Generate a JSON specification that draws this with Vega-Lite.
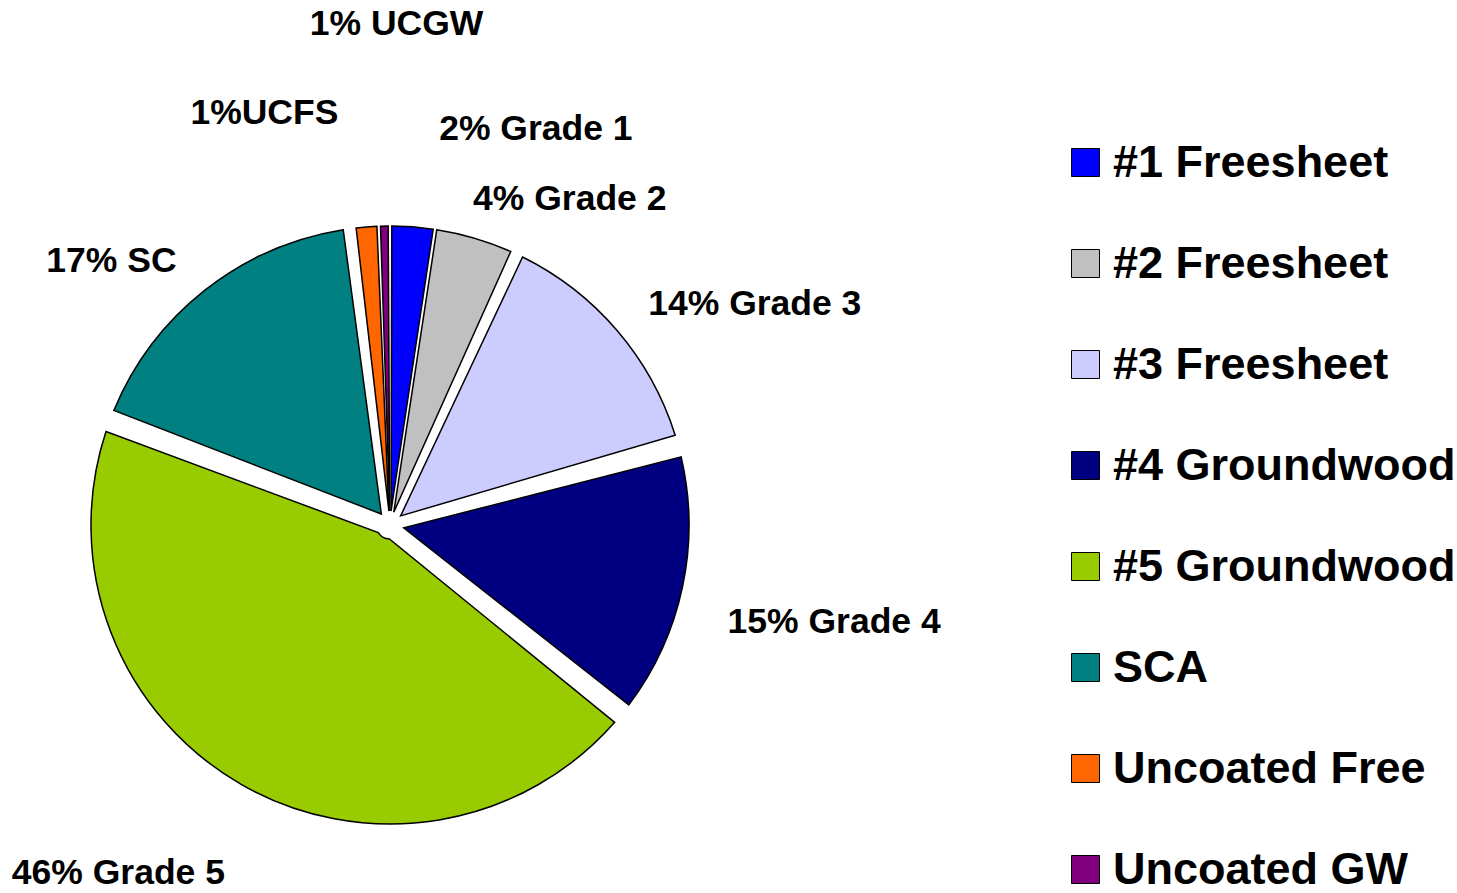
{
  "$schema": "https://vega.github.io/schema/vega-lite/v6.json",
  "autosize": "none",
  "width": 780,
  "height": 734,
  "padding": {"left": 0, "top": 158, "right": 677, "bottom": 1},
  "background": "white",
  "config": {"view": {"stroke": null}},
  "data": {"values": [
    {"grade": "#1 Freesheet", "value": 2.4, "label": "2% Grade 1"},
    {"grade": "#2 Freesheet", "value": 4.3, "label": "4% Grade 2"},
    {"grade": "#3 Freesheet", "value": 14.0, "label": "14% Grade 3"},
    {"grade": "#4 Groundwood", "value": 15.1, "label": "15% Grade 4"},
    {"grade": "#5 Groundwood", "value": 44.7, "label": "46% Grade 5"},
    {"grade": "SCA", "value": 17.4, "label": "17% SC"},
    {"grade": "Uncoated Free", "value": 1.3, "label": "1%UCFS"},
    {"grade": "Uncoated GW", "value": 0.6, "label": "1% UCGW"}
  ]},
  "encoding": {
    "theta": {"field": "value", "type": "quantitative", "stack": true},
    "order": {"field": "grade", "sort": "ascending"}
  },
  "layer": [
    {
      "mark": {"type": "arc", "outerRadius": 299, "innerRadius": 14, "stroke": "black", "strokeWidth": 1.5, "padAngle": {"expr": "datum.value > 5 ? 0.075 : 0.012"}},
      "encoding": {
        "color": {
          "field": "grade", "type": "nominal",
          "scale": {
            "domain": ["#1 Freesheet", "#2 Freesheet", "#3 Freesheet", "#4 Groundwood", "#5 Groundwood", "SCA", "Uncoated Free", "Uncoated GW"],
            "range": ["#0000FF", "#C0C0C0", "#CCCCFF", "#000080", "#99CC00", "#008080", "#FF6600", "#800080"]
          },
          "legend": {
            "orient": "none", "legendX": 1063, "legendY": -18, "title": null,
            "symbolType": "square", "symbolSize": 784, "symbolStrokeColor": "black", "symbolStrokeWidth": 1,
            "labelFontSize": 45, "labelFont": "Liberation Sans", "labelFontWeight": "bold", "labelColor": "black",
            "rowPadding": 55, "labelOffset": 5, "labelLimit": 600
          }
        }
      }
    },
    {
      "mark": {"type": "text", "radius": 340, "align": "left", "baseline": "middle", "font": "Liberation Sans", "fontWeight": "bold", "fontSize": 35.5, "fill": "black"},
      "encoding": {
        "detail": {"field": "grade"},
        "text": {"condition": {"test": "datum.grade === '#3 Freesheet'", "field": "label"}, "value": ""}
      }
    },
    {
      "mark": {"type": "text", "radius": 340, "dx": -13, "align": "left", "baseline": "middle", "font": "Liberation Sans", "fontWeight": "bold", "fontSize": 35.5, "fill": "black"},
      "encoding": {
        "detail": {"field": "grade"},
        "text": {"condition": {"test": "datum.grade === '#2 Freesheet'", "field": "label"}, "value": ""}
      }
    },
    {
      "mark": {"type": "text", "radius": 345, "dy": 26, "align": "left", "baseline": "middle", "font": "Liberation Sans", "fontWeight": "bold", "fontSize": 35.5, "fill": "black"},
      "encoding": {
        "detail": {"field": "grade"},
        "text": {"condition": {"test": "datum.grade === '#4 Groundwood'", "field": "label"}, "value": ""}
      }
    },
    {
      "mark": {"type": "text", "radius": 340, "dx": -3, "dy": 3, "align": "right", "baseline": "middle", "font": "Liberation Sans", "fontWeight": "bold", "fontSize": 35.5, "fill": "black"},
      "encoding": {
        "detail": {"field": "grade"},
        "text": {"condition": {"test": "datum.grade === 'SCA'", "field": "label"}, "value": ""}
      }
    },
    {
      "mark": {"type": "text", "radius": 395, "dx": 31, "dy": 5, "align": "right", "baseline": "middle", "font": "Liberation Sans", "fontWeight": "bold", "fontSize": 35.5, "fill": "black"},
      "encoding": {
        "detail": {"field": "grade"},
        "text": {"condition": {"test": "datum.grade === '#5 Groundwood'", "field": "label"}, "value": ""}
      }
    },
    {
      "mark": {"type": "text", "radius": 400, "dx": 19, "dy": 3, "align": "left", "baseline": "middle", "font": "Liberation Sans", "fontWeight": "bold", "fontSize": 35.5, "fill": "black"},
      "encoding": {
        "detail": {"field": "grade"},
        "text": {"condition": {"test": "datum.grade === '#1 Freesheet'", "field": "label"}, "value": ""}
      }
    },
    {
      "mark": {"type": "text", "radius": 415, "dx": -19, "dy": 2, "align": "right", "baseline": "middle", "font": "Liberation Sans", "fontWeight": "bold", "fontSize": 35.5, "fill": "black"},
      "encoding": {
        "detail": {"field": "grade"},
        "text": {"condition": {"test": "datum.grade === 'Uncoated Free'", "field": "label"}, "value": ""}
      }
    },
    {
      "mark": {"type": "text", "radius": 503, "dx": 16, "dy": 2, "align": "center", "baseline": "middle", "font": "Liberation Sans", "fontWeight": "bold", "fontSize": 35.5, "fill": "black"},
      "encoding": {
        "detail": {"field": "grade"},
        "text": {"condition": {"test": "datum.grade === 'Uncoated GW'", "field": "label"}, "value": ""}
      }
    }
  ]
}
